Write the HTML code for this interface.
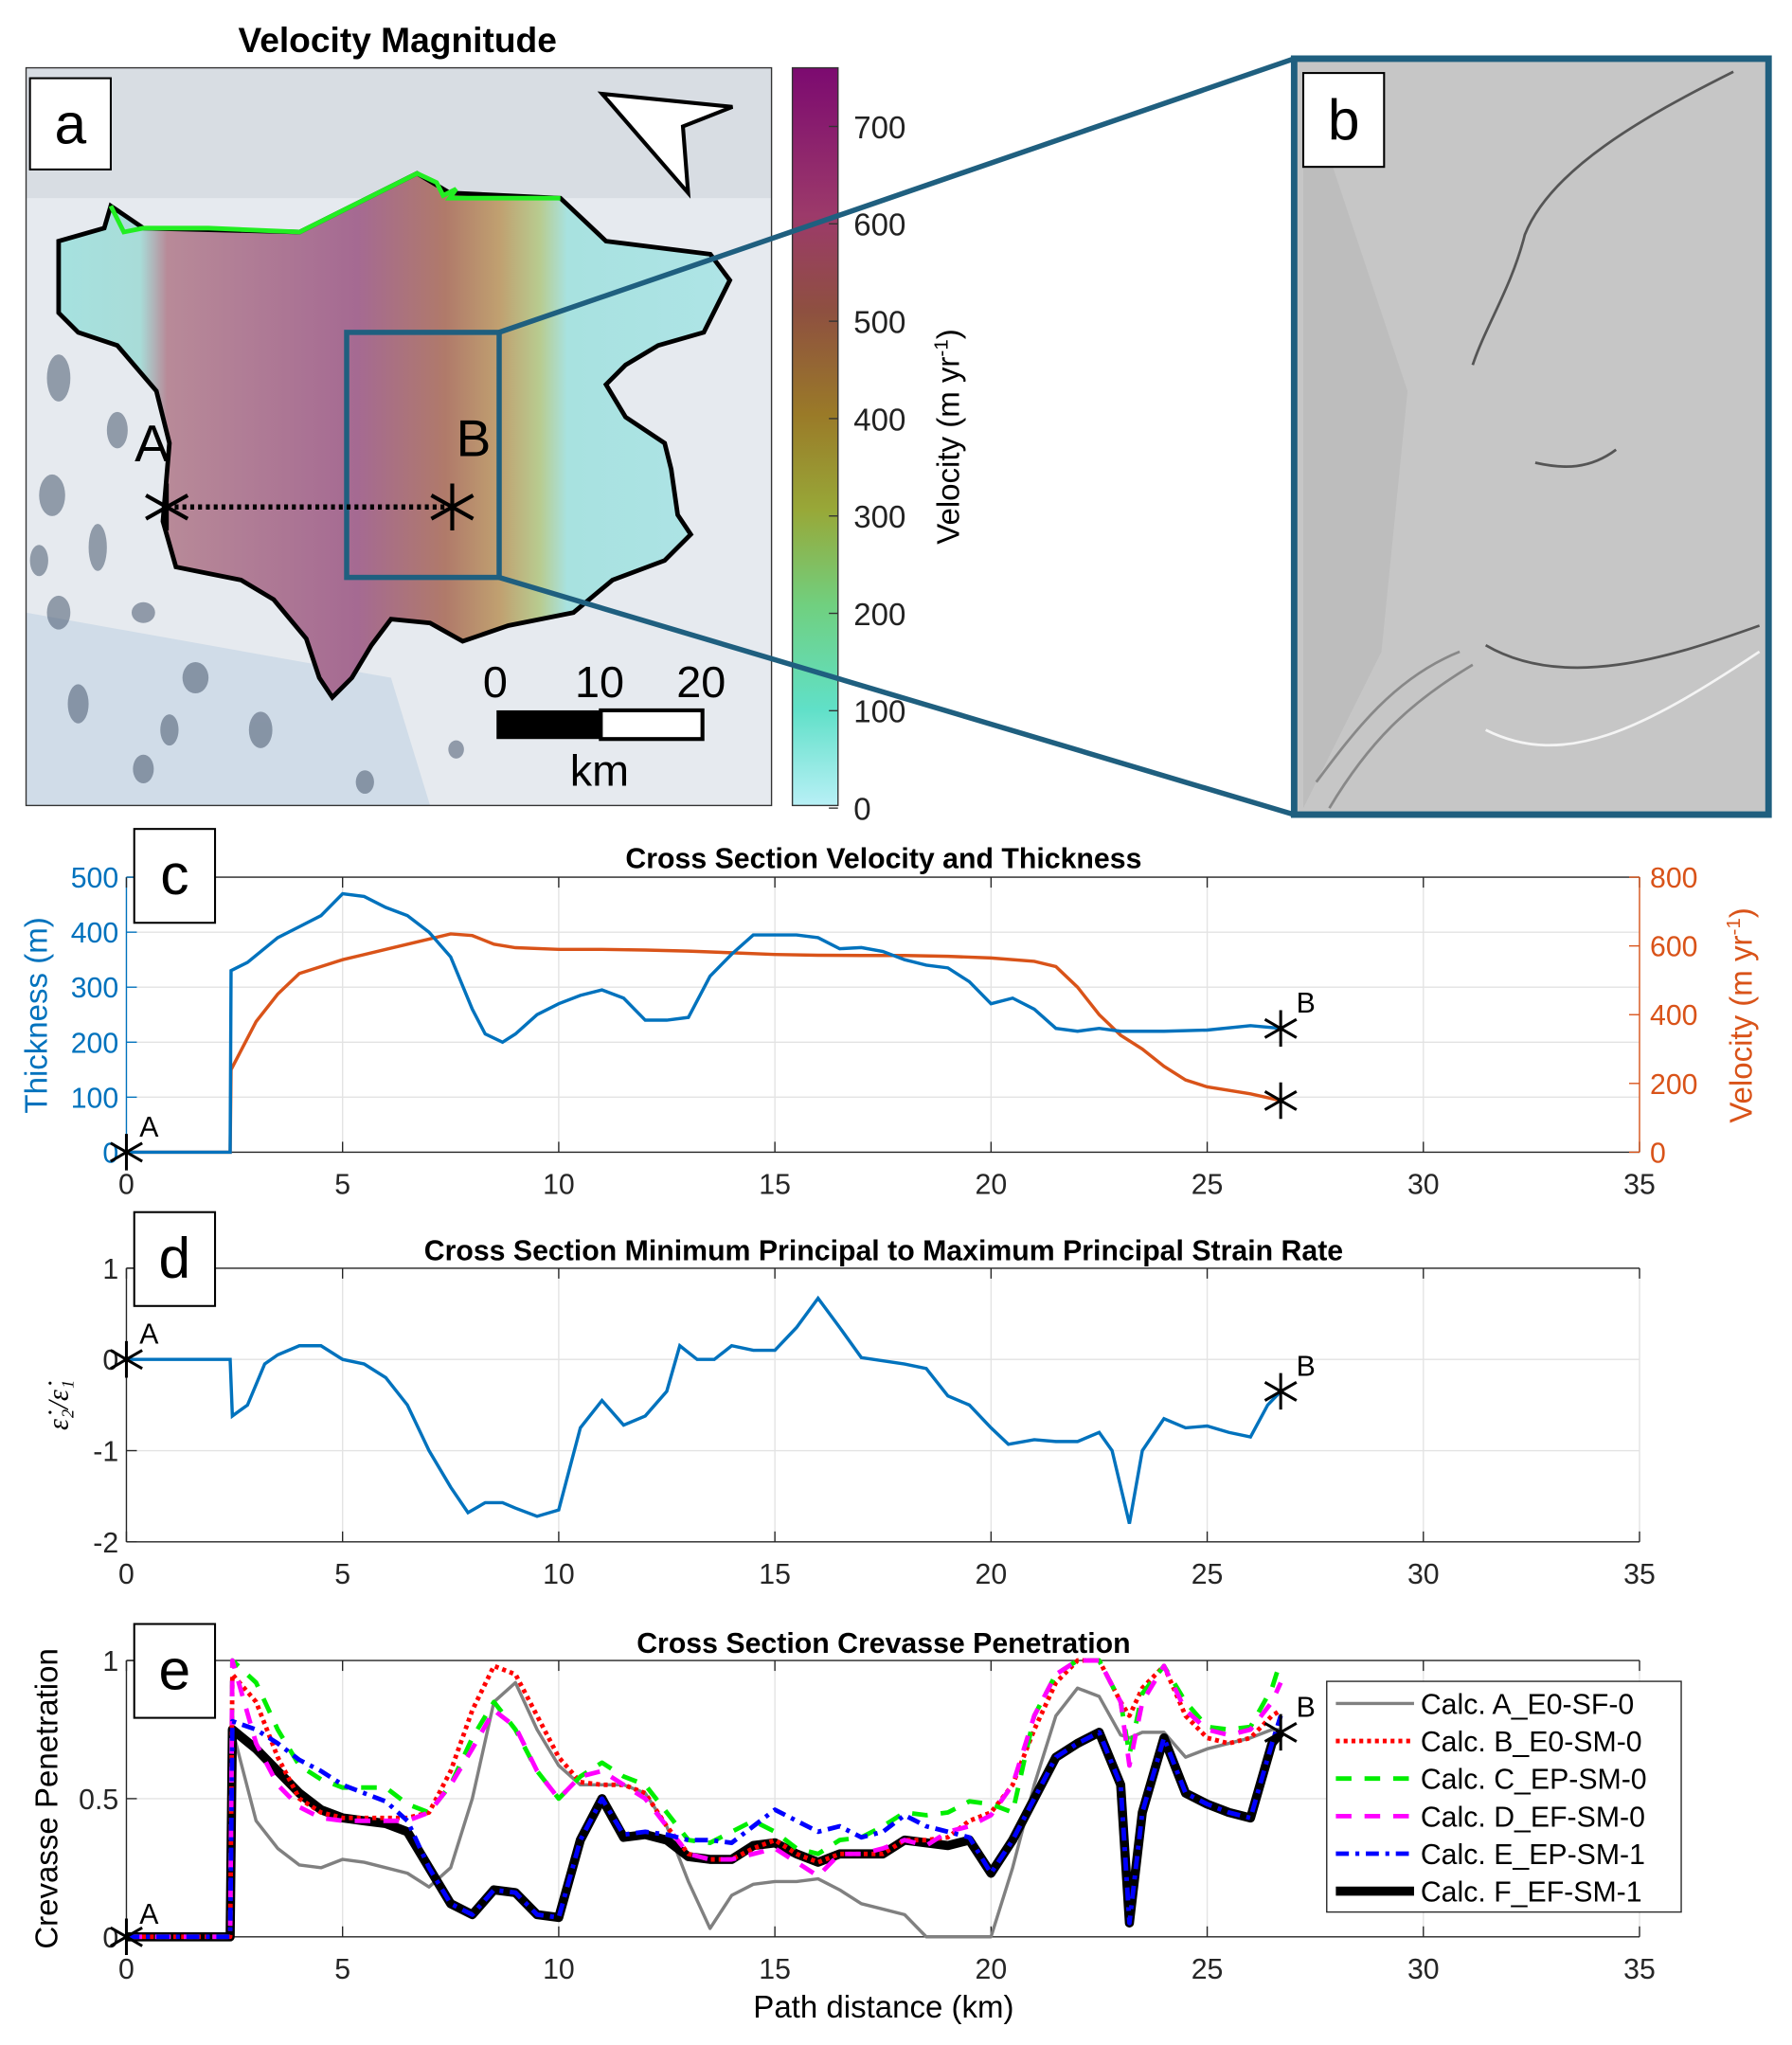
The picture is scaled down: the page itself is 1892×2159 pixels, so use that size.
<!DOCTYPE html>
<html><head><meta charset="utf-8"><style>
html,body{margin:0;padding:0;background:#fff;}
svg{display:block;font-family:"Liberation Sans",sans-serif;}
</style></head><body>
<svg id="fig" width="1892" height="2159" viewBox="0 0 1375 1569" xmlns="http://www.w3.org/2000/svg">
<defs>
<linearGradient id="glac" gradientUnits="userSpaceOnUse" x1="40" y1="0" x2="560" y2="0">
<stop offset="0" stop-color="#a6e2e0"/><stop offset="0.13" stop-color="#a8dcd8"/>
<stop offset="0.17" stop-color="#b88a98"/><stop offset="0.45" stop-color="#a56a92"/>
<stop offset="0.58" stop-color="#b07a6a"/><stop offset="0.66" stop-color="#c0a070"/>
<stop offset="0.72" stop-color="#b8cc90"/><stop offset="0.76" stop-color="#a8e2e0"/>
<stop offset="1" stop-color="#aee4e6"/></linearGradient>
<linearGradient id="cbar" x1="0" y1="0" x2="0" y2="1">
<stop offset="0" stop-color="#7c0a70"/><stop offset="0.2" stop-color="#9c3a6a"/>
<stop offset="0.33" stop-color="#8e5040"/><stop offset="0.47" stop-color="#9a7a28"/>
<stop offset="0.6" stop-color="#98a838"/><stop offset="0.73" stop-color="#70d080"/>
<stop offset="0.87" stop-color="#60e0c8"/><stop offset="1" stop-color="#b8f0f6"/></linearGradient>
<clipPath id="mapclip"><rect x="20" y="52" width="572" height="566"/></clipPath>
</defs>

<!-- Panel a -->
<text x="305" y="40" font-size="27" font-weight="bold" text-anchor="middle">Velocity Magnitude</text>
<g clip-path="url(#mapclip)">
<rect x="20" y="52" width="572" height="566" fill="#e6eaef"/>
<rect x="20" y="52" width="572" height="100" fill="#d8dde3"/>
<path d="M20 470 L300 520 L330 618 L20 618Z" fill="#d0dce8"/>
<g fill="#4a5a70" opacity="0.55">
<ellipse cx="45" cy="290" rx="9" ry="18"/><ellipse cx="90" cy="330" rx="8" ry="14"/><ellipse cx="40" cy="380" rx="10" ry="16"/>
<ellipse cx="75" cy="420" rx="7" ry="18"/><ellipse cx="45" cy="470" rx="9" ry="13"/><ellipse cx="110" cy="470" rx="9" ry="8"/>
<ellipse cx="150" cy="520" rx="10" ry="12"/><ellipse cx="60" cy="540" rx="8" ry="15"/><ellipse cx="200" cy="560" rx="9" ry="14"/>
<ellipse cx="110" cy="590" rx="8" ry="11"/><ellipse cx="280" cy="600" rx="7" ry="9"/><ellipse cx="350" cy="575" rx="6" ry="7"/>
<ellipse cx="130" cy="560" rx="7" ry="12"/><ellipse cx="30" cy="430" rx="7" ry="12"/>
</g>
<path d="M85 158 L110 175 L230 178 L320 133 L345 148 L430 152 L465 185 L545 195 L560 215 L540 255 L505 265 L480 280 L465 295 L480 320 L510 340 L515 360 L520 395 L530 410 L510 430 L470 445 L440 470 L390 480 L355 492 L330 478 L300 475 L285 495 L270 520 L255 535 L245 520 L235 490 L210 460 L185 445 L160 440 L135 435 L125 400 L130 340 L120 300 L90 265 L60 255 L45 240 L45 185 L80 175Z" fill="url(#glac)" stroke="#000" stroke-width="3.5"/>
<path d="M85 158 L95 178 L110 175 L160 175 L230 178 L320 133 L335 140 L340 150 L350 145 L345 152 L430 152" fill="none" stroke="#22ee22" stroke-width="3.5"/>
<polygon points="462,72 562,82 524,97 528,148" fill="#fff" stroke="#000" stroke-width="3"/>
<rect x="266" y="255" width="117" height="188" fill="none" stroke="#1f5f7f" stroke-width="4"/>
<line x1="128" y1="389" x2="347" y2="389" stroke="#000" stroke-width="4" stroke-dasharray="3,3"/>
<text x="130" y="354" font-size="40" text-anchor="end">A</text>
<text x="350" y="350" font-size="40">B</text>
<path d="M128 371 L128 407 M112 380 L144 398 M112 398 L144 380" stroke="#000" stroke-width="3"/>
<path d="M347 371 L347 407 M331 380 L363 398 M331 398 L363 380" stroke="#000" stroke-width="3"/>
<g>
<text x="380" y="535" font-size="34" text-anchor="middle">0</text><text x="460" y="535" font-size="34" text-anchor="middle">10</text><text x="538" y="535" font-size="34" text-anchor="middle">20</text>
<rect x="381" y="545" width="80" height="22" fill="#000"/><rect x="461" y="545" width="78" height="22" fill="#fff" stroke="#000" stroke-width="3"/>
<text x="460" y="603" font-size="34" text-anchor="middle">km</text></g>
</g>
<rect x="20" y="52" width="572" height="566" fill="none" stroke="#333" stroke-width="1"/>
<rect x="23" y="60" width="62" height="70" fill="#fff" stroke="#000" stroke-width="1.5"/>
<text x="54" y="110" font-size="44" text-anchor="middle">a</text>
<rect x="608" y="52" width="35" height="566" fill="url(#cbar)" stroke="#333" stroke-width="1"/>
<g id="cbticks" font-size="24" fill="#222"></g>
<text transform="translate(736,335) rotate(-90)" font-size="24" text-anchor="middle">Velocity (m yr<tspan font-size="15" dy="-9">-1</tspan><tspan dy="9">)</tspan></text>

<!-- Panel b -->
<line x1="383" y1="255" x2="993" y2="45" stroke="#1f5f7f" stroke-width="4"/>
<line x1="383" y1="443" x2="993" y2="625" stroke="#1f5f7f" stroke-width="4"/>
<g>
<rect x="993" y="45" width="364" height="580" fill="#c6c6c6"/>
<path d="M1000 60 L1080 300 L1060 500 L1000 620Z" fill="#bdbdbd"/>
<g fill="none" stroke="#555" stroke-width="2">
<path d="M1330 55 C1260 90 1190 130 1170 180 C1160 220 1140 250 1130 280"/>
<path d="M1178 355 C1200 360 1220 360 1240 345"/>
<path d="M1140 495 C1200 530 1280 505 1350 480"/>
<path d="M1140 560 C1200 590 1260 560 1350 500" stroke="#f4f4f4"/>
<path d="M1010 600 C1040 560 1070 520 1120 500" stroke="#888"/>
<path d="M1020 620 C1050 570 1080 540 1130 510" stroke="#888"/>
</g>
</g>
<rect x="993" y="45" width="364" height="580" fill="none" stroke="#1f5f7f" stroke-width="5"/>
<rect x="1000" y="56" width="62" height="72" fill="#fff" stroke="#000" stroke-width="1.5"/>
<text x="1031" y="107" font-size="44" text-anchor="middle">b</text>

<g id="plots"></g>
</svg>
<script>
// ---------- Data ----------
const xTicks = [0,5,10,15,20,25,30,35];
const cbTickValues = [0,100,200,300,400,500,600,700];
const thickKm = [0,2.4,2.42,2.8,3.5,4,4.5,5,5.5,6,6.5,7,7.5,8,8.3,8.7,9,9.5,10,10.5,11,11.5,12,12.5,13,13.5,14,14.5,15,15.5,16,16.5,17,17.5,18,18.5,19,19.5,20,20.5,21,21.5,22,22.5,23,24,25,26,26.7];
const thickVals = [0,0,330,345,390,410,430,470,465,445,430,400,355,260,215,200,215,250,270,285,295,280,240,240,245,320,360,395,395,395,390,370,372,365,350,340,335,310,270,280,260,225,220,225,220,220,222,230,225];
const velKm = [0,2.4,2.42,3,3.5,4,5,6,7,7.5,8,8.5,9,10,11,12,13,14,15,16,17,18,19,20,21,21.5,22,22.5,23,23.5,24,24.5,25,26,26.7];
const velVals = [0,0,240,380,460,520,560,590,620,635,630,605,595,590,590,588,585,580,575,573,572,572,570,565,555,540,480,400,340,300,250,210,190,170,150];
const strainKm = [0,2.4,2.45,2.8,3.2,3.5,4,4.5,5,5.5,6,6.5,7,7.5,7.9,8.3,8.7,9,9.5,10,10.5,11,11.5,12,12.5,12.8,13.2,13.6,14,14.5,15,15.5,16,16.5,17,18,18.5,19,19.5,20,20.4,21,21.5,22,22.5,22.8,23.2,23.5,24,24.5,25,25.5,26,26.4,26.7];
const strainVals = [0,0,-0.62,-0.5,-0.05,0.05,0.15,0.15,0,-0.05,-0.2,-0.5,-1.0,-1.4,-1.68,-1.57,-1.57,-1.63,-1.72,-1.65,-0.75,-0.45,-0.72,-0.62,-0.35,0.15,0,0,0.15,0.1,0.1,0.35,0.67,0.35,0.02,-0.05,-0.1,-0.4,-0.5,-0.75,-0.93,-0.88,-0.9,-0.9,-0.8,-1.0,-1.8,-1.0,-0.65,-0.75,-0.73,-0.8,-0.85,-0.5,-0.35];
const crevKm = [0,2.4,2.45,3,3.5,4,4.5,5,5.5,6,6.5,7,7.5,8,8.5,9,9.5,10,10.5,11,11.5,12,12.5,13,13.5,14,14.5,15,15.5,16,16.5,17,17.5,18,18.5,19,19.5,20,20.5,21,21.5,22,22.5,23,23.2,23.5,24,24.5,25,25.5,26,26.5,26.7];
const crevA = [0,0,0.75,0.42,0.32,0.26,0.25,0.28,0.27,0.25,0.23,0.18,0.25,0.5,0.85,0.92,0.75,0.62,0.55,0.55,0.55,0.52,0.4,0.2,0.03,0.15,0.19,0.2,0.2,0.21,0.17,0.12,0.1,0.08,0,0,0,0,0.25,0.55,0.8,0.9,0.87,0.73,0.72,0.74,0.74,0.65,0.68,0.7,0.72,0.75,0.75];
const crevB = [0,0,0.95,0.85,0.65,0.5,0.45,0.43,0.43,0.43,0.43,0.45,0.6,0.82,0.98,0.95,0.8,0.65,0.56,0.55,0.55,0.52,0.4,0.3,0.28,0.28,0.32,0.35,0.3,0.27,0.3,0.3,0.3,0.35,0.35,0.36,0.42,0.45,0.55,0.75,0.92,1.0,1.0,0.85,0.8,0.9,0.98,0.8,0.72,0.7,0.72,0.8,0.82];
const crevC = [0,0,1.0,0.92,0.75,0.62,0.57,0.54,0.54,0.54,0.48,0.45,0.55,0.72,0.85,0.75,0.6,0.5,0.58,0.63,0.58,0.55,0.45,0.35,0.34,0.38,0.42,0.38,0.32,0.3,0.35,0.36,0.4,0.45,0.44,0.45,0.49,0.48,0.45,0.8,0.95,1.0,1.0,0.85,0.66,0.88,0.98,0.85,0.76,0.75,0.76,0.9,1.0];
const crevD = [0,0,1.0,0.7,0.55,0.47,0.43,0.42,0.42,0.42,0.42,0.45,0.55,0.68,0.82,0.76,0.6,0.5,0.58,0.6,0.55,0.5,0.4,0.3,0.28,0.28,0.3,0.32,0.27,0.22,0.3,0.3,0.32,0.35,0.33,0.38,0.4,0.44,0.55,0.8,0.95,1.0,1.0,0.85,0.62,0.85,0.98,0.82,0.75,0.73,0.75,0.85,0.92];
const crevE = [0,0,0.78,0.75,0.7,0.64,0.6,0.55,0.52,0.49,0.42,0.25,0.12,0.08,0.17,0.16,0.08,0.07,0.35,0.5,0.37,0.38,0.37,0.35,0.35,0.34,0.4,0.46,0.42,0.38,0.4,0.36,0.38,0.44,0.4,0.38,0.36,0.23,0.35,0.5,0.65,0.7,0.74,0.55,0.05,0.45,0.72,0.52,0.48,0.45,0.43,0.7,0.8];
const crevF = [0,0,0.75,0.68,0.6,0.52,0.46,0.43,0.42,0.41,0.38,0.25,0.12,0.08,0.17,0.16,0.08,0.07,0.35,0.5,0.36,0.37,0.35,0.29,0.28,0.28,0.33,0.34,0.3,0.27,0.3,0.3,0.3,0.35,0.34,0.33,0.35,0.23,0.35,0.5,0.65,0.7,0.74,0.55,0.05,0.45,0.72,0.52,0.48,0.45,0.43,0.7,0.74];
const legendLabels = ["Calc. A_E0-SF-0","Calc. B_E0-SM-0","Calc. C_EP-SM-0","Calc. D_EF-SM-0","Calc. E_EP-SM-1","Calc. F_EF-SM-1"];

// ---------- Helpers ----------
const NS = "http://www.w3.org/2000/svg";
const root = document.getElementById('plots');
function mk(tag, attrs, parent, text){
  const e = document.createElementNS(NS, tag);
  for (const k in attrs) e.setAttribute(k, attrs[k]);
  if (text !== undefined) e.textContent = text;
  (parent||root).appendChild(e);
  return e;
}
const X0 = 97, X1 = 1258;
const xs = v => X0 + (v/35)*(X1-X0);
function lin(d0,d1,p0,p1){ return v => p0 + (v-d0)/(d1-d0)*(p1-p0); }
function path(xarr, yarr, ys){ return xarr.map((x,i)=>(i?'L':'M')+xs(x).toFixed(1)+' '+ys(yarr[i]).toFixed(1)).join(' '); }

// colorbar ticks
const cbY = lin(0,700,620,97);
const cbg = document.getElementById('cbticks');
cbTickValues.forEach(v=>{
  const t = mk('text',{x:655,y:cbY(v)+9},cbg,String(v));
  
  
  mk('line',{x1:636,x2:643,y1:cbY(v),y2:cbY(v),stroke:'#333'},cbg);
});

function axesFrame(top, bottom, yTickVals, ysc, name, yColor, yLabels){
  const g = mk('g',{});
  
  
  mk('rect',{x:X0,y:top,width:X1-X0,height:bottom-top,fill:'#fff'},g);
  xTicks.forEach(v=>{ mk('line',{x1:xs(v),x2:xs(v),y1:top,y2:bottom,stroke:'#e3e3e3','stroke-width':1},g); });
  yTickVals.forEach(v=>{ mk('line',{x1:X0,x2:X1,y1:ysc(v),y2:ysc(v),stroke:'#e3e3e3','stroke-width':1},g); });
  mk('line',{x1:X0,x2:X1,y1:top,y2:top,stroke:'#262626'},g);
  mk('line',{x1:X0,x2:X1,y1:bottom,y2:bottom,stroke:'#262626'},g);
  mk('line',{x1:X0,x2:X0,y1:top,y2:bottom,stroke:yColor||'#262626'},g);
  xTicks.forEach(v=>{
    mk('line',{x1:xs(v),x2:xs(v),y1:bottom,y2:bottom-8,stroke:'#262626'},g);
    mk('line',{x1:xs(v),x2:xs(v),y1:top,y2:top+8,stroke:'#262626'},g);
    const t = mk('text',{x:xs(v),y:bottom+32,'font-size':22,'text-anchor':'middle',fill:'#262626'},g,String(v));
    
    
  });
  yTickVals.forEach((v,i)=>{
    mk('line',{x1:X0,x2:X0+8,y1:ysc(v),y2:ysc(v),stroke:yColor||'#262626'},g);
    const t = mk('text',{x:X0-6,y:ysc(v)+8,'font-size':22,'text-anchor':'end',fill:yColor||'#262626'},g,yLabels?yLabels[i]:String(v));
    
    
  });
  return g;
}
function panelLabel(x,y,letter,name){
  const r = mk('rect',{x:x,y:y,width:62,height:72,fill:'#fff',stroke:'#000','stroke-width':1.5});
  
  
  mk('text',{x:x+31,y:y+50,'font-size':44,'text-anchor':'middle'},root,letter);
}
function star(x,y,label,dx,dy){
  const r=14, a=r*0.866, b=r*0.5;
  const d = `M${x} ${y-r} L${x} ${y+r} M${x-a} ${y-b} L${x+a} ${y+b} M${x-a} ${y+b} L${x+a} ${y-b}`;
  const t = mk('path',{d:d,stroke:'#000','stroke-width':2.2,fill:'none'});
  
  
  if(label){ mk('text',{x:x+dx,y:y+dy,'font-size':22},root,label); }
}
function title(y,txt,name){
  const t = mk('text',{x:678,y:y,'font-size':22,'font-weight':'bold','text-anchor':'middle'},root,txt);
  
  
}

// ---------- Panel c ----------
const cTop=673, cBot=884;
const yThick = lin(0,500,cBot,cTop);
const yVel = lin(0,800,cBot,cTop);
const BLUE='#0072BD', ORANGE='#D95319';
axesFrame(cTop,cBot,[0,100,200,300,400,500],yThick,'velocity-thickness-axes',BLUE);
mk('line',{x1:X1,x2:X1,y1:cTop,y2:cBot,stroke:ORANGE});
[0,200,400,600,800].forEach(v=>{
  mk('line',{x1:X1-8,x2:X1,y1:yVel(v),y2:yVel(v),stroke:ORANGE});
  const t = mk('text',{x:X1+8,y:yVel(v)+8,'font-size':22,fill:ORANGE},root,String(v));
  
  
});
title(666,'Cross Section Velocity and Thickness','panel-c-title');
let e;
e = mk('text',{transform:'translate(36,779) rotate(-90)','font-size':24,fill:BLUE,'text-anchor':'middle'},root,'Thickness (m)');
 
e = mk('text',{transform:'translate(1344,779) rotate(-90)','font-size':24,fill:ORANGE,'text-anchor':'middle'});
e.innerHTML = 'Velocity (m yr<tspan font-size="15" dy="-9">-1</tspan><tspan dy="9">)</tspan>';
 
e = mk('path',{d:path(velKm,velVals,yVel),fill:'none',stroke:ORANGE,'stroke-width':2.5});
 
e = mk('path',{d:path(thickKm,thickVals,yThick),fill:'none',stroke:BLUE,'stroke-width':2.5});
 
star(xs(0),yThick(0),'A',10,-12);
star(xs(26.7),yThick(thickVals[thickVals.length-1]),'B',12,-12);
star(xs(26.7),yVel(velVals[velVals.length-1]),null);
panelLabel(103,636,'c','panel-label-c');

// ---------- Panel d ----------
const dTop=973, dBot=1183;
const yStrain = lin(-2,1,dBot,dTop);
axesFrame(dTop,dBot,[-2,-1,0,1],yStrain,'strain-ratio-axes');
title(967,'Cross Section Minimum Principal to Maximum Principal Strain Rate','panel-d-title');
e = mk('text',{transform:'translate(52,1078) rotate(-90)','font-size':22,'font-family':'Liberation Serif,serif','font-style':'italic','text-anchor':'middle'},root,'ε̇₂/ε̇₁');
 
e = mk('path',{d:path(strainKm,strainVals,yStrain),fill:'none',stroke:BLUE,'stroke-width':2.5});
 
star(xs(0),yStrain(0),'A',10,-12);
star(xs(26.7),yStrain(strainVals[strainVals.length-1]),'B',12,-12);
panelLabel(103,930,'d','panel-label-d');

// ---------- Panel e ----------
const eTop=1274, eBot=1486;
const yCrev = lin(0,1,eBot,eTop);
axesFrame(eTop,eBot,[0,0.5,1],yCrev,'crevasse-axes');
title(1268,'Cross Section Crevasse Penetration','panel-e-title');
e = mk('text',{transform:'translate(44,1380) rotate(-90)','font-size':24,'text-anchor':'middle'},root,'Crevasse Penetration');
 
e = mk('text',{x:678,y:1548,'font-size':24,'text-anchor':'middle'},root,'Path distance (km)');
 
const styles = [
  {c:'#808080',w:2.5,d:''},
  {c:'#ff0000',w:3.5,d:'3,3'},
  {c:'#00ee00',w:3.5,d:'12,10'},
  {c:'#ff00ff',w:3.5,d:'12,10'},
  {c:'#0000ff',w:3.5,d:'10,5,3,5'},
  {c:'#000000',w:7,d:''}];
const crevSeries = [crevA,crevB,crevC,crevD,crevE,crevF];
const drawOrder = [0,5,1,2,3,4];
drawOrder.forEach(i=>{
  const p = mk('path',{d:path(crevKm,crevSeries[i],yCrev),fill:'none',stroke:styles[i].c,'stroke-width':styles[i].w,'stroke-dasharray':styles[i].d,'stroke-linejoin':'round'});
  
  
});
star(xs(0),yCrev(0),'A',10,-10);
star(xs(26.7),yCrev(crevF[crevF.length-1]),'B',12,-12);
panelLabel(103,1246,'e','panel-e');
const lg = mk('g',{});


mk('rect',{x:1018,y:1290,width:272,height:177,fill:'#fff',stroke:'#262626','stroke-width':1},lg);
legendLabels.forEach((lab,i)=>{
  const y = 1307+i*28.8;
  const ent = mk('g',{},lg);
  
  
  mk('line',{x1:1025,x2:1085,y1:y,y2:y,stroke:styles[i].c,'stroke-width':styles[i].w,'stroke-dasharray':styles[i].d},ent);
  mk('text',{x:1090,y:y+8,'font-size':22},ent,lab);
});
</script>
</body></html>
